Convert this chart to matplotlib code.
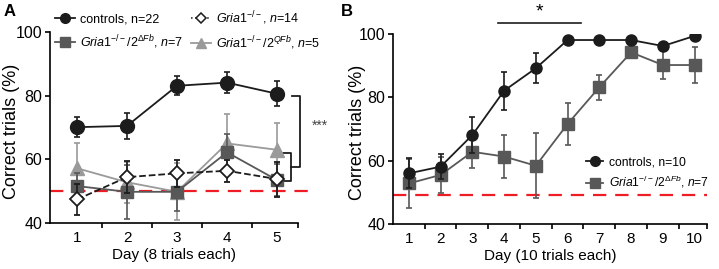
import matplotlib
matplotlib.use('Agg')
import matplotlib.pyplot as plt
from matplotlib.lines import Line2D

plt.rcParams['font.family'] = ['Liberation Sans', 'DejaVu Sans']
plt.rcParams['mathtext.fontset'] = 'custom'
plt.rcParams['mathtext.rm'] = 'Liberation Sans'
plt.rcParams['mathtext.it'] = 'Liberation Sans:italic'

# panel A: 8 trials per day
days_a = [1, 2, 3, 4, 5]
ctrl_a = [70.1, 70.5, 83.1, 84.1, 80.6]
ctrl_a_err = [3.2, 4.0, 3.0, 3.2, 4.0]
ko1_a = [47.4, 54.4, 55.6, 56.4, 53.8]
ko1_a_err = [5.0, 5.0, 4.3, 3.5, 5.5]
dfb_a = [51.6, 49.8, 49.8, 62.2, 53.5]
dfb_a_err = [4.0, 8.4, 6.0, 5.8, 5.0]
qfb_a = [57.2, 52.8, 49.8, 65.0, 63.0]
qfb_a_err = [7.8, 6.5, 9.0, 9.3, 8.5]

# panel B: 10 trials per day
days_b = [1, 2, 3, 4, 5, 6, 7, 8, 9, 10]
ctrl_b = [56.0, 58.1, 68.1, 82.1, 89.2, 98.1, 98.1, 98.1, 96.2, 99.4]
ctrl_b_err = [4.7, 4.0, 5.6, 6.0, 4.7, 0, 0, 0, 0, 0]
dfb_b = [52.8, 55.5, 62.8, 61.3, 58.4, 71.6, 83.2, 94.2, 90.2, 90.2]
dfb_b_err = [7.8, 5.6, 5.0, 6.8, 10.2, 6.5, 4.0, 1.7, 4.3, 5.7]

lab_ctrl_a = 'controls, n=22'
lab_ko1 = r'$\mathit{Gria1}^{-/-}$, $\mathit{n}$=14'
lab_dfb_a = r'$\mathit{Gria1}^{-/-}/2^{\Delta Fb}$, $\mathit{n}$=7'
lab_qfb = r'$\mathit{Gria1}^{-/-}/2^{QFb}$, $\mathit{n}$=5'
lab_ctrl_b = 'controls, n=10'
lab_dfb_b = r'$\mathit{Gria1}^{-/-}/2^{\Delta Fb}$, $\mathit{n}$=7'

BLACK = '#1c1c1c'
DARK = '#585858'
LIGHT = '#9a9a9a'
RED = '#ee1c24'

fig = plt.figure(figsize=(7.19, 2.69), dpi=100)
axA = fig.add_axes([50/719, 1-223/269, 248/719, 191/269])
axB = fig.add_axes([393/719, 1-224/269, 314/719, 190/269])

ekw = dict(capsize=2, elinewidth=1.2, capthick=1.2)

# ---- A ----
axA.errorbar(days_a, qfb_a, yerr=qfb_a_err, color=LIGHT, marker='^', ms=10,
             lw=1.3, ecolor=LIGHT, zorder=2, **ekw)
axA.errorbar(days_a, dfb_a, yerr=dfb_a_err, color=DARK, marker='s', ms=9,
             lw=1.3, ecolor=DARK, zorder=3, **ekw)
axA.errorbar(days_a, ko1_a, yerr=ko1_a_err, color=BLACK, marker='D', ms=7,
             mfc='white', mec=BLACK, mew=1.3, lw=1.3, ls='--', ecolor=BLACK,
             zorder=4, **ekw)
axA.errorbar(days_a, ctrl_a, yerr=ctrl_a_err, color=BLACK, marker='o', ms=10,
             lw=1.3, ecolor=BLACK, zorder=5, **ekw)
axA.plot([0.46, 5.66], [50, 50], color=RED, ls=(0, (6, 4)), lw=1.6,
         clip_on=False, zorder=1)

axA.set_xlim(0.46, 5.42)
axA.set_ylim(40, 100)
axA.set_yticks([40, 60, 80, 100])
axA.set_xticks([1.5, 2.5, 3.5, 4.5, 5.42])
axA.set_xticklabels([])
axA.set_xticks(days_a, minor=True)
axA.set_xticklabels([str(d) for d in days_a], minor=True)
axA.set_xlabel('Day (8 trials each)', fontsize=11, labelpad=2)
axA.set_ylabel('Correct trials (%)', fontsize=13)
axA.yaxis.set_label_coords(-0.12, 0.48)

# significance brackets
axA.plot([5.12, 5.27, 5.27, 5.12], [62, 62, 53.3, 53.3], color=BLACK, lw=1.3, clip_on=False)
axA.plot([5.27, 5.46, 5.46, 5.29], [57.6, 57.6, 80, 80], color=BLACK, lw=1.3, clip_on=False)
axA.text(5.86, 70.5, '***', ha='center', va='center', fontsize=10, color='#444444')

hA = [Line2D([], [], color=BLACK, marker='o', ms=7, lw=1.3),
      Line2D([], [], color=DARK, marker='s', ms=6.5, lw=1.3),
      Line2D([], [], color=BLACK, marker='D', ms=5, mfc='white', mew=1.1, lw=1.1, ls=':'),
      Line2D([], [], color=LIGHT, marker='^', ms=7, lw=1.3)]
axA.legend(hA, [lab_ctrl_a, lab_dfb_a, lab_ko1, lab_qfb], ncol=2,
           loc='upper left', bbox_to_anchor=(0.0, 1.145), frameon=False,
           fontsize=9, handlelength=1.6, handletextpad=0.4, columnspacing=0.6,
           labelspacing=0.6, borderaxespad=0)

# ---- B ----
axB.errorbar(days_b, dfb_b, yerr=dfb_b_err, color=DARK, marker='s', ms=8.5,
             lw=1.3, ecolor=DARK, zorder=3, **ekw)
axB.errorbar(days_b, ctrl_b, yerr=ctrl_b_err, color=BLACK, marker='o', ms=8,
             lw=1.3, ecolor=BLACK, zorder=4, **ekw)
axB.axhline(49.2, color=RED, ls=(0, (6, 4)), lw=1.6, zorder=1)
axB.plot([3.82, 6.43], [103.5, 103.5], color=BLACK, lw=1.2, clip_on=False)
axB.text(5.12, 104.2, '*', ha='center', va='bottom', fontsize=14)

axB.set_xlim(0.5, 10.39)
axB.set_ylim(40, 100)
axB.set_yticks([40, 60, 80, 100])
axB.set_xticks([1.5, 2.5, 3.5, 4.5, 5.5, 6.5, 7.5, 8.5, 9.5, 10.39])
axB.set_xticklabels([])
axB.set_xticks(days_b, minor=True)
axB.set_xticklabels([str(d) for d in days_b], minor=True)
axB.set_xlabel('Day (10 trials each)', fontsize=11, labelpad=2)
axB.set_ylabel('Correct trials (%)', fontsize=13)
axB.yaxis.set_label_coords(-0.086, 0.48)

hB = [Line2D([], [], color=BLACK, marker='o', ms=7, lw=1.3),
      Line2D([], [], color=DARK, marker='s', ms=7, lw=1.3)]
axB.legend(hB, [lab_ctrl_b, lab_dfb_b], loc='upper left',
           bbox_to_anchor=(0.6, 0.38), frameon=False, fontsize=8.7,
           handlelength=1.4, handletextpad=0.5, labelspacing=0.45, borderaxespad=0)

for ax in (axA, axB):
    ax.spines['top'].set_visible(False)
    ax.spines['right'].set_visible(False)
    ax.spines['left'].set_linewidth(1.2)
    ax.spines['bottom'].set_linewidth(1.2)
    ax.tick_params(axis='both', which='major', labelsize=11.5, width=1.2, length=3.5, pad=2)
    ax.tick_params(axis='x', which='minor', labelsize=11, length=0, pad=6)

fig.text(10/719, 1-12/269, 'A', fontsize=12, fontweight='bold', ha='center', va='center')
fig.text(347/719, 1-12/269, 'B', fontsize=12, fontweight='bold', ha='center', va='center')

fig.savefig('out.png', dpi=100)
